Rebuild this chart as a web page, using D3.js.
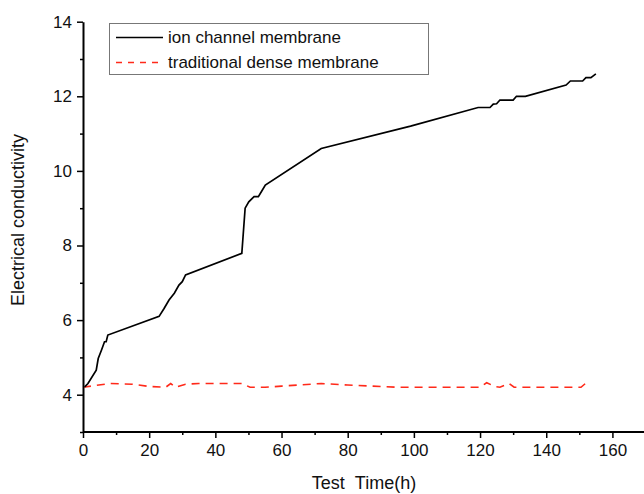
<!DOCTYPE html>
<html>
<head>
<meta charset="utf-8">
<script src="https://cdn.jsdelivr.net/npm/d3@7"></script>
<style>
  body { margin: 0; background: #fff; }
  svg { font-family: Arial, "Liberation Sans", sans-serif; }
</style>
</head>
<body>
<svg id="chart"></svg>
<script>
// ion channel membrane (hours, conductivity)
var ionTime = [0.5, 1.5, 4, 4.6, 5.6, 6.5, 7, 7.5, 23, 24.5, 26, 27.6, 29, 30, 31,
               48, 49, 50.1, 51.7, 53, 53.9, 55.1, 72, 99, 119.4, 123, 124, 125, 126,
               130, 131, 133.7, 146, 147.3, 151, 152, 153.5, 155];
var ionValue = [4.21, 4.3, 4.66, 4.97, 5.2, 5.42, 5.42, 5.6, 6.1, 6.31, 6.54, 6.72, 6.94, 7.03, 7.21,
                7.79, 9.0, 9.17, 9.31, 9.31, 9.44, 9.62, 10.6, 11.2, 11.7, 11.7, 11.79, 11.8, 11.9,
                11.9, 12.0, 12.0, 12.3, 12.41, 12.41, 12.5, 12.5, 12.6];

// traditional dense membrane
var denseTime = [0, 8, 15, 20, 25, 26.5, 28, 31, 35, 48, 50.5, 55, 60, 72, 80, 90, 95,
                 120, 122, 124.5, 126, 128.8, 130.3, 150.5, 152.5];
var denseValue = [4.2, 4.3, 4.28, 4.22, 4.2, 4.3, 4.2, 4.28, 4.3, 4.3, 4.2, 4.2, 4.23, 4.3, 4.26, 4.22, 4.2,
                  4.2, 4.32, 4.22, 4.2, 4.3, 4.2, 4.2, 4.35];

var seriesNames = ['ion channel membrane', 'traditional dense membrane'];
var xTicks = [0, 20, 40, 60, 80, 100, 120, 140, 160];
var yTicks = [4, 6, 8, 10, 12, 14];

var width = 644, height = 494;
var svg = d3.select('#chart')
            .attr('width', width)
            .attr('height', height);

var x = d3.scaleLinear().domain([0, 170]).range([83, 645.5]);
var y = d3.scaleLinear().domain([3, 14]).range([432, 21.7]);

var ion = ionTime.map((t, i) => [t, ionValue[i]]);
var dense = denseTime.map((t, i) => [t, denseValue[i]]);

var line = d3.line()
             .x(d => x(d[0]))
             .y(d => y(d[1]));

svg.append('path')
    .datum(dense)
    .attr('d', line)
    .attr('fill', 'none')
    .attr('stroke', '#ff2a1a')
    .attr('stroke-width', 1.6)
    .attr('stroke-dasharray', '8,6');

svg.append('path')
    .datum(ion)
    .attr('d', line)
    .attr('fill', 'none')
    .attr('stroke', '#000')
    .attr('stroke-width', 1.7);

// x axis: major + minor ticks
var xAxis = svg.append('g')
    .attr('transform', `translate(0,${y(3)})`)
    .call(d3.axisBottom(x).tickValues(xTicks).tickSize(6).tickPadding(6).tickFormat(d3.format('d')));
svg.append('g')
    .attr('transform', `translate(0,${y(3)})`)
    .call(d3.axisBottom(x).tickValues(d3.range(10, 171, 20)).tickSize(3).tickFormat(''))
    .select('.domain').remove();

var yAxis = svg.append('g')
    .attr('transform', `translate(${x(0)},0)`)
    .call(d3.axisLeft(y).tickValues(yTicks).tickSize(6).tickPadding(5).tickSizeOuter(0));
svg.append('g')
    .attr('transform', `translate(${x(0)},0)`)
    .call(d3.axisLeft(y).tickValues([3, 5, 7, 9, 11, 13]).tickSize(3).tickFormat(''))
    .select('.domain').remove();

svg.selectAll('.domain').attr('stroke', '#000').attr('stroke-width', 2);
svg.selectAll('.tick line').attr('stroke', '#000').attr('stroke-width', 1.5);
svg.selectAll('.tick text')
    .style('font-size', '17px')
    .attr('fill', '#111');
xAxis.selectAll('.domain').attr('d', `M${x(0)},0H${width}`);

svg.append('text')
    .attr('x', 364)
    .attr('y', 489)
    .attr('text-anchor', 'middle')
    .style('font-size', '18px')
    .attr('fill', '#111')
    .text('Test\u00a0\u00a0Time(h)');

svg.append('text')
    .attr('transform', 'translate(24,220) rotate(-90)')
    .attr('text-anchor', 'middle')
    .style('font-size', '18px')
    .attr('fill', '#111')
    .text('Electrical conductivity');

// legend
var legend = svg.append('g');
legend.append('rect')
    .attr('x', 109.5)
    .attr('y', 23.5)
    .attr('width', 319)
    .attr('height', 51)
    .attr('fill', '#fff')
    .attr('stroke', '#777')
    .attr('stroke-width', 1);

var legendRows = legend.selectAll('.row')
    .data(seriesNames)
    .enter()
    .append('g')
    .attr('transform', (d, i) => `translate(0,${37.5 + i * 25})`);

legendRows.append('line')
    .attr('x1', 116)
    .attr('x2', 163)
    .attr('stroke', (d, i) => i === 0 ? '#000' : '#ff2a1a')
    .attr('stroke-width', (d, i) => i === 0 ? 1.7 : 1.4)
    .attr('stroke-dasharray', (d, i) => i === 0 ? null : '6,6');

legendRows.append('text')
    .attr('x', 168)
    .attr('dy', '0.35em')
    .style('font-size', '17px')
    .attr('fill', '#111')
    .text(d => d);
</script>
</body>
</html>
